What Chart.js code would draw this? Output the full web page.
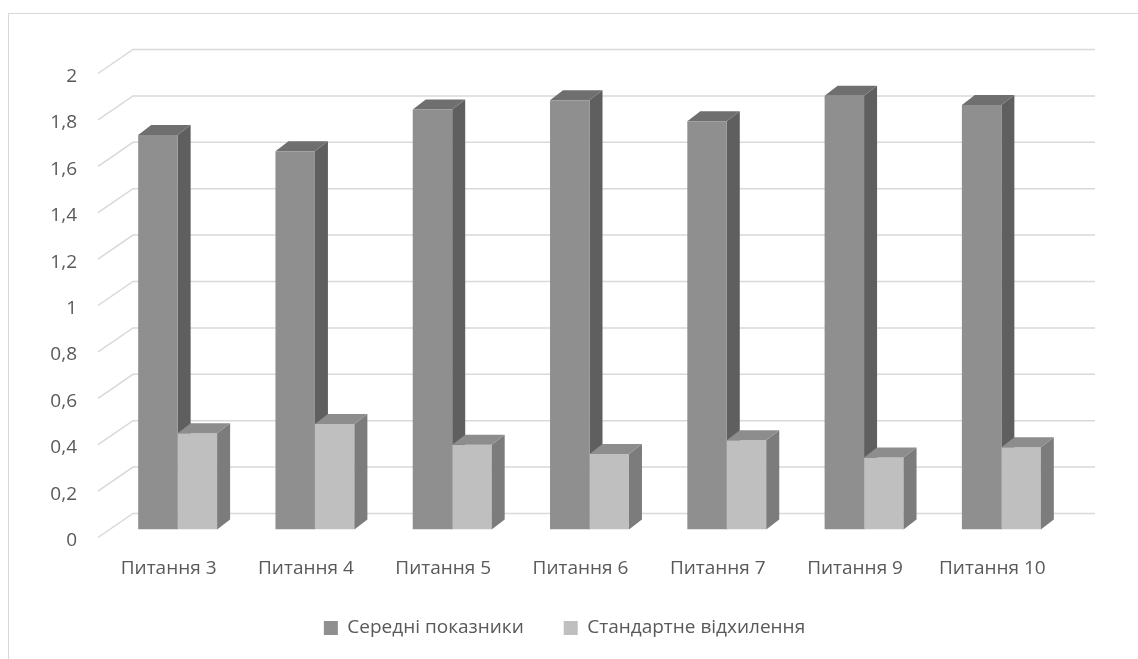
<!DOCTYPE html>
<html>
<head>
<meta charset="utf-8">
<script src="https://cdn.jsdelivr.net/npm/chart.js@4"></script>
<style>
    body { margin: 0; background: #fff; overflow: hidden; }
    .frame { position: absolute; left: 8px; top: 13px; width: 1300px; height: 800px; border: 1px solid #d9d9d9; }
    .wrap { position: absolute; left: 0; top: 0; width: 1138px; height: 659px; }
</style>
</head>
<body>
<div class="frame"></div>
<div class="wrap"><canvas id="chart"></canvas></div>
<script>
// data
const categories = ['Питання 3', 'Питання 4', 'Питання 5', 'Питання 6', 'Питання 7', 'Питання 9', 'Питання 10'];
const meanValues = [1.70, 1.63, 1.81, 1.85, 1.76, 1.87, 1.83];
const stdValues = [0.415, 0.455, 0.365, 0.325, 0.385, 0.31, 0.355];
const seriesNames = ['Середні показники', 'Стандартне відхилення'];
const yMin = 0;
const yMax = 2;
const yStep = 0.2;

// face colours for the fake 3d boxes: [front, side, top]
const faces = [
    ['#8f8f8f', '#5f5f5f', '#6f6f6f'],
    ['#bfbfbf', '#7c7c7c', '#8d8d8d']
];
const DEPTH_X = 13, DEPTH_Y = -10;

function drawBoxFaces(ctx, bar, colors) {
    const left = bar.x - bar.width / 2;
    const right = bar.x + bar.width / 2;
    const top = bar.y;
    const bottom = bar.base;
    // side
    ctx.fillStyle = colors[1];
    ctx.beginPath();
    ctx.moveTo(right, top);
    ctx.lineTo(right + DEPTH_X, top + DEPTH_Y);
    ctx.lineTo(right + DEPTH_X, bottom + DEPTH_Y);
    ctx.lineTo(right, bottom);
    ctx.closePath();
    ctx.fill();
    // top
    ctx.fillStyle = colors[2];
    ctx.beginPath();
    ctx.moveTo(left, top);
    ctx.lineTo(left + DEPTH_X, top + DEPTH_Y);
    ctx.lineTo(right + DEPTH_X, top + DEPTH_Y);
    ctx.lineTo(right, top);
    ctx.closePath();
    ctx.fill();
}

const box3d = {
    id: 'box3d',
    beforeDatasetsDraw(chart) {
        const ctx = chart.ctx;
        const area = chart.chartArea;
        const yScale = chart.scales.y;
        // back wall gridlines + the slanted lines on the left
        ctx.save();
        ctx.strokeStyle = '#d9d9d9';
        ctx.lineWidth = 1.5;
        yScale.ticks.forEach(t => {
            const y = yScale.getPixelForValue(t.value);
            ctx.beginPath();
            ctx.moveTo(area.left - 11, y + 8);
            ctx.lineTo(area.left + 24, y - 16);
            ctx.lineTo(area.right + 25, y - 16);
            ctx.stroke();
        });
        // sides/tops of the dark boxes go behind the light fronts
        chart.getDatasetMeta(0).data.forEach(bar => drawBoxFaces(ctx, bar, faces[0]));
        ctx.restore();
    },
    afterDatasetsDraw(chart) {
        const ctx = chart.ctx;
        ctx.save();
        chart.getDatasetMeta(1).data.forEach(bar => drawBoxFaces(ctx, bar, faces[1]));
        ctx.restore();
    }
};

const textColor = '#595959';
const fontFamily = '"Open Sans", "Noto Sans", sans-serif';
const fontSize = 19;

new Chart(document.getElementById('chart'), {
    type: 'bar',
    data: {
        labels: categories,
        datasets: [
            {
                label: seriesNames[0],
                data: meanValues,
                backgroundColor: faces[0][0],
                borderWidth: 0,
                categoryPercentage: 0.575,
                barPercentage: 1
            },
            {
                label: seriesNames[1],
                data: stdValues,
                backgroundColor: faces[1][0],
                borderWidth: 0,
                categoryPercentage: 0.575,
                barPercentage: 1
            }
        ]
    },
    options: {
        responsive: true,
        maintainAspectRatio: false,
        animation: false,
        layout: {
            padding: { left: 0, right: 9, top: 65.5, bottom: 11.5 }
        },
        scales: {
            x: {
                grid: { display: false, drawTicks: false },
                border: { display: false },
                ticks: {
                    color: textColor,
                    font: { family: fontFamily, size: fontSize },
                    padding: 28,
                    labelOffset: -9,
                    maxRotation: 0
                },
                afterFit(axis) { axis.height = 49; }
            },
            y: {
                min: yMin,
                max: yMax,
                grid: { display: false, drawTicks: false },
                border: { display: false },
                ticks: {
                    stepSize: yStep,
                    color: textColor,
                    font: { family: fontFamily, size: fontSize },
                    padding: 32,
                    labelOffset: 11,
                    callback: function(value) {
                        return String(Math.round(value * 10) / 10).replace('.', ',');
                    }
                },
                afterFit(axis) { axis.width = 109; }
            },
            // empty right-hand spacer so the legend sits centred like the original
            spacer: {
                position: 'right',
                display: true,
                grid: { display: false, drawTicks: false },
                border: { display: false },
                ticks: { display: false },
                afterFit(axis) { axis.width = 59; }
            }
        },
        plugins: {
            legend: {
                position: 'bottom',
                labels: {
                    color: textColor,
                    font: { family: fontFamily, size: fontSize },
                    boxWidth: 14,
                    boxHeight: 14,
                    padding: 40
                }
            },
            tooltip: { enabled: false }
        }
    },
    plugins: [box3d]
});
</script>
</body>
</html>
